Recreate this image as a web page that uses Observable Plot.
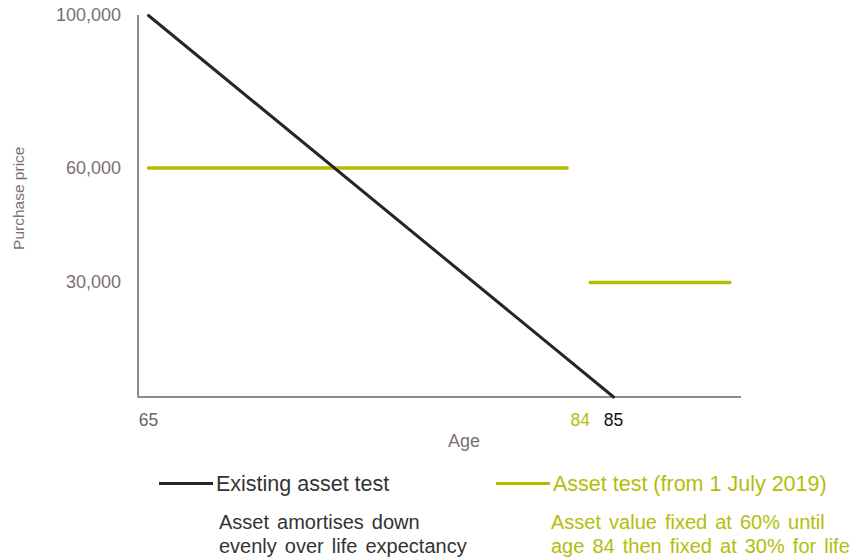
<!DOCTYPE html>
<html>
<head>
<meta charset="utf-8">
<script src="https://cdn.jsdelivr.net/npm/d3@7"></script>
<script src="https://cdn.jsdelivr.net/npm/@observablehq/plot@0.6"></script>
<style>
  body { margin: 0; background: #fff; }
  #wrap { position: relative; width: 854px; height: 557px; font-family: "Liberation Sans", Arial, sans-serif; }
  #legend { position: absolute; left: 0; top: 0; width: 854px; height: 557px; pointer-events: none; }
  .sw { position: absolute; height: 3px; }
  .lt { position: absolute; white-space: nowrap; line-height: 1; }
</style>
</head>
<body>
<div id="wrap"><div id="chart"></div><div id="legend"></div></div>
<script>
// Data
const existingAges = [65, 85];
const existingValues = [100000, 0];
const newSegment = ["to 83", "to 83", "from 84", "from 84"];
const newAges = [65, 83, 84, 90];
const newValues = [60000, 60000, 30000, 30000];
const yTicks = [30000, 60000, 100000];
const xTickValues = [65, 84, 85];
const xTickColors = ["#6d6367", "#b3bd0c", "#111111"];

const seriesNames = ["Existing asset test", "Asset test (from 1 July 2019)"];
const seriesNotes = [
  ["Asset amortises down", "evenly over life expectancy"],
  ["Asset value fixed at 60% until", "age 84 then fixed at 30% for life"]
];

const black = "#262626";
const green = "#b5bd00";
const gray = "#7b6f73";
const axisGray = "#8c8c8c";

const existing = existingAges.map((a, i) => ({age: a, value: existingValues[i]}));
const asset = newAges.map((a, i) => ({age: a, value: newValues[i], seg: newSegment[i]}));
const xt = xTickValues.map((v, i) => ({v, c: xTickColors[i]}));

const chart = Plot.plot({
  width: 854,
  height: 455,
  marginLeft: 137.5,
  marginRight: 113,
  marginTop: 15,
  marginBottom: 58.5,
  style: {fontFamily: "Liberation Sans, Arial, sans-serif", background: "#fff"},
  x: {domain: [64.55, 90.5], axis: null},
  y: {domain: [0, 100000], axis: null},
  marks: [
    Plot.ruleX([64.55], {y1: 0, y2: 100000, stroke: axisGray, strokeWidth: 2}),
    Plot.ruleY([0], {x1: 64.55, x2: 90.5, stroke: axisGray, strokeWidth: 2}),
    Plot.axisY(yTicks, {
      anchor: "left", tickSize: 0, tickPadding: 17, fontSize: 18, fill: gray,
      tickFormat: d3.format(","), label: null
    }),
    Plot.text(["Purchase price"], {
      frameAnchor: "left", textAnchor: "middle", dx: -119, dy: -8, rotate: -90, fontSize: 15.5, fill: gray
    }),
    Plot.text(xt.filter(d => d.v !== 84), {x: "v", y: 0, text: d => String(d.v), fill: d => d.c, dy: 23, fontSize: 17.5}),
    Plot.text(xt.filter(d => d.v === 84), {x: "v", y: 0, text: d => String(d.v), fill: d => d.c, dy: 23, dx: -10, fontSize: 17.5}),
    Plot.text(["Age"], {x: 78.57, y: 0, dy: 44, fontSize: 18, fill: gray}),
    Plot.line(asset, {x: "age", y: "value", z: "seg", stroke: green, strokeWidth: 3.5, strokeLinecap: "round"}),
    Plot.line(existing, {x: "age", y: "value", stroke: black, strokeWidth: 3})
  ]
});
document.getElementById("chart").appendChild(chart);

// Legend (HTML, below plot area)
const leg = document.getElementById("legend");
const items = [
  {color: black, textColor: "#333333", sx: 159, sw: 54, tx: 216, nx: 219},
  {color: green, textColor: "#b3bd0c", sx: 496, sw: 54, tx: 553, nx: 551}
];
items.forEach((it, i) => {
  const s = document.createElement("div");
  s.className = "sw";
  s.style.cssText = `left:${it.sx}px;top:482px;width:${it.sw}px;background:${it.color}`;
  leg.appendChild(s);
  const t = document.createElement("div");
  t.className = "lt";
  t.textContent = seriesNames[i];
  t.style.cssText = `left:${it.tx}px;top:474px;font-size:21.5px;color:${it.textColor}`;
  leg.appendChild(t);
  seriesNotes[i].forEach((line, j) => {
    const n = document.createElement("div");
    n.className = "lt";
    n.textContent = line;
    n.style.cssText = `left:${it.nx}px;top:${512 + j * 24}px;font-size:20px;color:${it.textColor};word-spacing:2.5px`;
    leg.appendChild(n);
  });
});
</script>
</body>
</html>
